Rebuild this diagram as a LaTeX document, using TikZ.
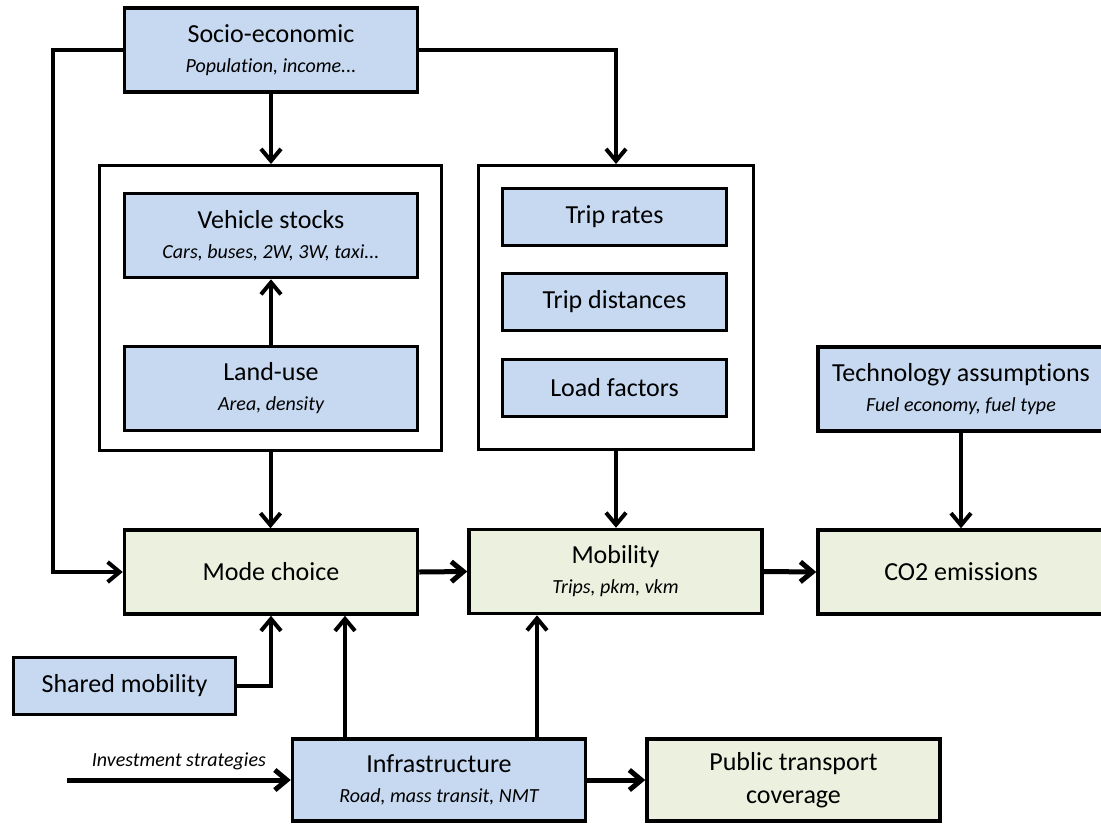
\documentclass[tikz,border=0pt]{standalone}
\usepackage{fontspec}
\setmainfont{Carlito}[Ligatures=NoCommon]
\usepackage{xcolor}
\usetikzlibrary{calc, arrows.meta}

\definecolor{inputblue}{RGB}{198,217,241}
\definecolor{resultgreen}{RGB}{235,241,222}

\tikzset{
	block/.style = {draw, line width=3.5pt, minimum width=293pt, minimum height=84pt, inner sep=0pt, align=center, font=\fontsize{26}{30}\selectfont},
	smallblock/.style = {block, minimum width=224pt, minimum height=57pt},
	inputblock/.style = {block, fill=inputblue},
	resultblock/.style = {block, fill=resultgreen},
	frame/.style = {draw, line width=3pt, inner sep=0pt},
	flow/.style = {line width=4pt, -{Straight Barb[length=12pt, width=20pt]}},
	mainflow/.style = {flow, line width=5pt},
}
\newcommand{\detail}[1]{\\{\fontsize{20}{30}\selectfont\itshape #1}}

\begin{document}
\begin{tikzpicture}[x=1pt, y=-1pt]
		\useasboundingbox (0,0) rectangle (1101,823);
		\clip (0,0) rectangle (1101,823);
		
		\node[frame, minimum width=342pt, minimum height=285pt] (stockframe) at (270.5,308) {};
		\node[frame, minimum width=275pt, minimum height=284pt] (tripframe) at (616,307.5) {};
		
		\node[inputblock] (socio) at (271,50) {Socio-economic\detail{Population, income...}};
		\node[inputblock] (vstock) at (271,235.5) {Vehicle stocks\detail{Cars, buses, 2W, 3W, taxi...}};
		\node[inputblock] (landuse) at (271,388.5) {Land-use\detail{Area, density}};
		
		\node[inputblock, smallblock] (triprates) at (614.5,217) {Trip rates};
		\node[inputblock, smallblock] (tripdist) at (614.5,302) {Trip distances};
		\node[inputblock, smallblock] (loadfac) at (614.5,388) {Load factors};
		
		\node[inputblock, minimum width=286pt] (tech) at (961,389) {Technology assumptions\detail{Fuel economy, fuel type}};
		
		\node[resultblock] (mode) at (271,572) {Mode choice};
		\node[resultblock] (mobility) at (615.5,571.5) {Mobility\detail{Trips, pkm, vkm}};
		\node[resultblock, minimum width=286pt] (co2) at (961,572) {CO2 emissions};
		
		\node[inputblock, smallblock, minimum width=222pt] (shared) at (124.5,686) {Shared mobility};
		\node[inputblock, minimum height=82pt] (infra) at (439,780) {Infrastructure\detail{Road, mass transit, NMT}};
		\node[resultblock, minimum height=82pt] (ptcover) at (793.5,780) {Public transport\\[3pt]coverage};
		
		\coordinate (investstart) at (67,780);
		
		\begin{scope}[flow]
			\draw (socio.west) -- ++(-70,0) |- (mode.west);
			\draw (socio.east) -| (tripframe.north);
			\draw (socio.south) -- (socio.south |- stockframe.north);
			\draw (landuse.north) -- (vstock.south);
			\draw (stockframe.south) -- (stockframe.south |- mode.north);
			\draw (tripframe.south) -- (tripframe.south |- mobility.north);
			\draw (tech.south) -- (tech.south |- co2.north);
			\draw (shared.east) -| (mode.south);
			\draw ([xshift=-94pt]infra.north) -- ([xshift=-94pt]infra.north |- mode.south);
			\draw ([xshift=98pt]infra.north) -- ([xshift=98pt]infra.north |- mobility.south);
		\end{scope}
		
		\begin{scope}[mainflow]
			\draw (mode.east) -- (mobility.west);
			\draw (mobility.east) -- (co2.west);
			\draw (infra.east) -- (ptcover.west);
			\draw (investstart) -- (infra.west) node [midway, above=4pt, font=\fontsize{20}{24}\selectfont\itshape] {Investment strategies};
		\end{scope}
	\end{tikzpicture}
\end{document}
